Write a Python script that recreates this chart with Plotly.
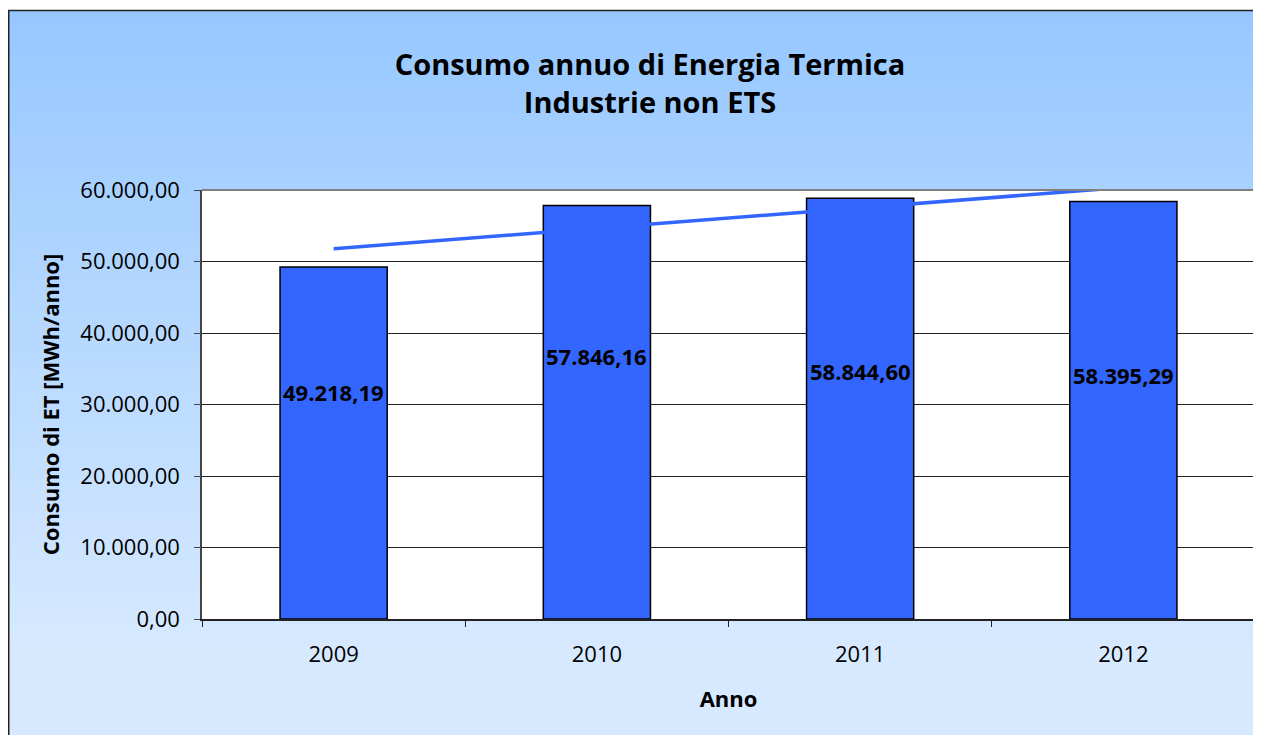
import numpy as np
import plotly.graph_objects as go

# ---- data ----
years = ["2009", "2010", "2011", "2012"]
consumo = [49218.19, 57846.16, 58844.60, 58395.29]
label_texts = ["49.218,19", "57.846,16", "58.844,60", "58.395,29"]
label_y = [31800, 36800, 34700, 34100]
ytick_vals = [0, 10000, 20000, 30000, 40000, 50000, 60000]
ytick_text = ["0,00", "10.000,00", "20.000,00", "30.000,00", "40.000,00", "50.000,00", "60.000,00"]

# linear trendline (as Excel does)
xi = np.arange(1, len(consumo) + 1)
slope, intercept = np.polyfit(xi, consumo, 1)
trend = [float(v) for v in (slope * xi + intercept)]

# page body has an 8px margin: figure coords = screen coords - 8
OFF = 8
W, H = 1261 - OFF, 735 - OFF
L, R, T, B = 202 - OFF, 1255 - OFF, 190 - OFF, 619 - OFF
pw, ph = R - L, B - T

def px(x):
    return (x - L) / pw

def py(y):
    return (B - y) / ph

FONT = "Open Sans, sans-serif"

fig = go.Figure()
fig.add_trace(go.Bar(
    x=years, y=consumo,
    marker=dict(color="#3366FF", line=dict(color="#000000", width=1.5)),
    width=0.407, hoverinfo="x+y", showlegend=False,
))
fig.add_trace(go.Scatter(
    x=years, y=trend, mode="lines",
    line=dict(color="#3366FF", width=3.5), showlegend=False,
))

shapes = []
# gradient background
y0, y1 = 2, H + 2
n = 70
c_top = np.array([150, 200, 255])
c_bot = np.array([214, 233, 255])
for i in range(n):
    a = y0 + (y1 - y0) * i / n
    b = y0 + (y1 - y0) * (i + 1) / n + 2
    t = min(1.0, ((a + b) / 2 - y0) / (632 - y0))
    c = c_top + (c_bot - c_top) * t
    shapes.append(dict(type="rect", xref="paper", yref="paper",
                       x0=px(0), x1=px(W + 2), y0=py(b), y1=py(a),
                       fillcolor="rgb(%d,%d,%d)" % tuple(c.astype(int)),
                       line=dict(width=0), layer="below"))
# white plot area
shapes.append(dict(type="rect", xref="paper", yref="paper", x0=0, x1=1, y0=0, y1=1,
                   fillcolor="#FFFFFF", line=dict(width=0), layer="below"))
# outer border
shapes.append(dict(type="rect", xref="paper", yref="paper",
                   x0=px(0.75), x1=px(W + 5), y0=py(H + 5), y1=py(2.5),
                   line=dict(color="#222222", width=1.5), fillcolor="rgba(0,0,0,0)", layer="above"))
# plot area top/right border (gray)
shapes.append(dict(type="line", xref="paper", yref="paper", x0=0, x1=1, y0=1, y1=1,
                   line=dict(color="#808080", width=2), layer="above"))
shapes.append(dict(type="line", xref="paper", yref="paper", x0=1, x1=1, y0=0, y1=1,
                   line=dict(color="#808080", width=2), layer="above"))

annotations = []
for i, (txt, ly) in enumerate(zip(label_texts, label_y)):
    annotations.append(dict(x=i, y=ly, xref="x", yref="y", text="<b>%s</b>" % txt, showarrow=False,
                            font=dict(family=FONT, size=22, color="#000000")))

fig.update_layout(
    width=W, height=H,
    margin=dict(l=L, r=W - R, t=T, b=H - B, autoexpand=False),
    paper_bgcolor="#FFFFFF", plot_bgcolor="rgba(0,0,0,0)",
    title=dict(text="<b>Consumo annuo di Energia Termica<br>Industrie non ETS</b>",
               x=px(642), xref="paper", xanchor="center", y=1 - (75 - OFF) / H, yanchor="middle",
               font=dict(family=FONT, size=29, color="#000000")),
    bargap=0.59,
    shapes=shapes,
    annotations=annotations,
    font=dict(family=FONT, color="#000000"),
)
fig.update_xaxes(
    type="category", categoryorder="array", categoryarray=years,
    range=[-0.5, len(years) - 0.5], autorange=False, automargin=False,
    showline=True, linecolor="#222222", linewidth=2,
    ticks="outside", tickson="boundaries", ticklen=6, tickcolor="#222222",
    tickfont=dict(family=FONT, size=22, color="#000000"), tickangle=0,
    ticklabelstandoff=15,
    title=dict(text="<b>Anno</b>", font=dict(family=FONT, size=22, color="#000000"), standoff=24),
    showgrid=False,
)
fig.update_yaxes(
    automargin=False,
    range=[0, 60000], autorange=False, tickvals=ytick_vals, ticktext=ytick_text,
    showline=True, linecolor="#444444", linewidth=1.5,
    ticks="outside", ticklen=6, tickcolor="#444444",
    tickfont=dict(family=FONT, size=22, color="#000000"),
    ticklabelstandoff=10,
    showgrid=True, gridcolor="#222222", gridwidth=1,
    zeroline=False,
    title=dict(text="<b>Consumo di ET [MWh/anno]</b>", font=dict(family=FONT, size=22, color="#000000"), standoff=15),
)

fig.write_html("out.html")
